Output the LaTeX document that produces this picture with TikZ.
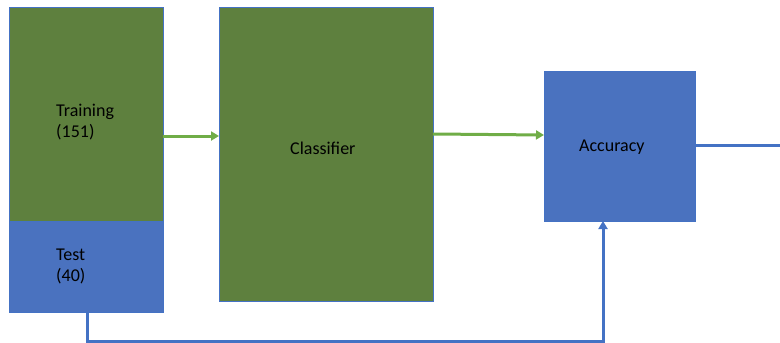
\documentclass[tikz,border=0pt]{standalone}
\usepackage{fontspec}
\setmainfont{Carlito}
\usetikzlibrary{arrows.meta}
\definecolor{boxgreen}{HTML}{5E803E}
\definecolor{boxblue}{HTML}{4A72BF}
\definecolor{edgeblue}{HTML}{4472C4}
\definecolor{linkgreen}{HTML}{70AD47}
\begin{document}
\begin{tikzpicture}[x=1pt,y=-1pt,
  block/.style={draw=edgeblue,line width=1pt},
  label/.style={font=\fontsize{18}{21}\selectfont,align=left,anchor=west,text=black,inner sep=0pt},
  greenlink/.style={draw=linkgreen,line width=3pt,-{Triangle[length=8pt,width=9pt]}},
  bluelink/.style={draw=edgeblue,line width=3pt}]
\useasboundingbox (0,0) rectangle (780,343);
% data split
\filldraw[block,fill=boxgreen] (9,7) rectangle (163,221);
\filldraw[block,fill=boxblue] (9,221) rectangle (163,312);
\coordinate (trainE) at (163,136);
\coordinate (testS) at (87,312);
\node[label] (train) at (56,122) {Training\\(151)};
\node[label] (test) at (56,266) {Test\\(40)};
% classifier
\filldraw[block,fill=boxgreen] (219,7) rectangle (433,301);
\node[label] (clf) at (290,148) {Classifier};
\coordinate (clfW) at (219,136);
\coordinate (clfE) at (433,134);
% accuracy
\filldraw[block,fill=boxblue] (544,71) rectangle (695,221);
\node[label] (acc) at (579,147) {Accuracy};
\coordinate (accW) at (544,135);
\coordinate (accE) at (695,145);
\coordinate (accS) at (603,221);
\coordinate (outE) at (780,145);
% connectors
\draw[greenlink] (trainE) -- (clfW);
\draw[greenlink] (clfE) -- (accW);
\draw[bluelink] (accE) -- (outE);
\draw[bluelink,-{Triangle[length=8pt,width=9pt]}] (testS) |- (603,341) -- (accS);
\end{tikzpicture}
\end{document}
